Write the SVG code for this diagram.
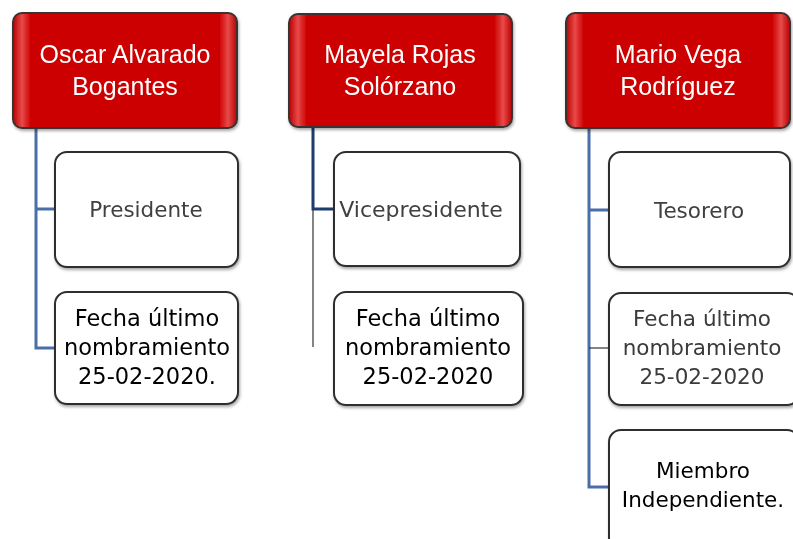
<svg xmlns="http://www.w3.org/2000/svg" width="793" height="539" viewBox="0 0 793 539">
<style>
.head{fill:url(#redg);stroke:#3b3030;stroke-width:2}
.card{fill:#fff;stroke:#2e2e2e;stroke-width:2}
.ht{font-family:"Liberation Sans",Arial,sans-serif;font-size:25px;fill:#fff;text-anchor:middle}
.gt{font-family:"DejaVu Sans",Verdana,sans-serif;font-size:21.5px;fill:#404040;text-anchor:middle}
.bt{font-family:"DejaVu Sans",Verdana,sans-serif;font-size:22.5px;fill:#000;text-anchor:middle}
.bt2{font-family:"DejaVu Sans",Verdana,sans-serif;font-size:21.5px;fill:#3a3a3a;text-anchor:middle}
.c{fill:none;stroke:#4a6ea8;stroke-width:3}
.cd{fill:none;stroke:#1f3c6e;stroke-width:3}
.thin{fill:none;stroke:#333;stroke-width:1.2}
</style>
<defs>
<linearGradient id="redg" x1="0" y1="0" x2="1" y2="0">
<stop offset="0" stop-color="#b80000"/>
<stop offset="0.04" stop-color="#e84a4a"/>
<stop offset="0.08" stop-color="#cc0000"/>
<stop offset="0.92" stop-color="#cc0000"/>
<stop offset="0.96" stop-color="#e84a4a"/>
<stop offset="1" stop-color="#b80000"/>
</linearGradient>
<filter id="sh" x="-10%" y="-10%" width="120%" height="130%">
<feDropShadow dx="1" dy="2" stdDeviation="1.5" flood-color="#000" flood-opacity="0.35"/>
</filter>
</defs>
<rect width="793" height="539" fill="#fff"/>
<g id="connectors">
<path class="c" d="M36 128 V348 H55 M36 209 H55"/>
<path class="cd" d="M313 127 V209 H335"/>
<path class="thin" d="M313 209 V347"/>
<path class="c" d="M589 128 V487 H609 M589 210 H609"/>
<path class="thin" d="M589 348 H609"/>
</g>
<g id="n1" filter="url(#sh)">
<rect class="head" x="13" y="13" width="224" height="115" rx="9"/>
<text class="ht" x="125" y="63">Oscar Alvarado</text>
<text class="ht" x="125" y="95">Bogantes</text>
</g>
<g id="n2" filter="url(#sh)">
<rect class="head" x="289" y="14" width="223" height="113" rx="9"/>
<text class="ht" x="400" y="63">Mayela Rojas</text>
<text class="ht" x="400" y="95">Solórzano</text>
</g>
<g id="n3" filter="url(#sh)">
<rect class="head" x="566" y="13" width="224" height="115" rx="9"/>
<text class="ht" x="678" y="63">Mario Vega</text>
<text class="ht" x="678" y="95">Rodríguez</text>
</g>
<g id="n1a" filter="url(#sh)">
<rect class="card" x="55" y="152" width="183" height="115" rx="12"/>
<text class="gt" x="146" y="217">Presidente</text>
</g>
<g id="n1b" filter="url(#sh)">
<rect class="card" x="55" y="292" width="183" height="112" rx="12"/>
<text class="bt" x="147" y="326">Fecha último</text>
<text class="bt" x="147" y="355">nombramiento</text>
<text class="bt" x="147" y="384">25-02-2020.</text>
</g>
<g id="n2a" filter="url(#sh)">
<rect class="card" x="334" y="152" width="186" height="114" rx="12"/>
<text class="gt" x="421" y="217" style="font-size:22px">Vicepresidente</text>
</g>
<g id="n2b" filter="url(#sh)">
<rect class="card" x="334" y="292" width="189" height="113" rx="12"/>
<text class="bt" x="428" y="326">Fecha último</text>
<text class="bt" x="428" y="355">nombramiento</text>
<text class="bt" x="428" y="384">25-02-2020</text>
</g>
<g id="n3a" filter="url(#sh)">
<rect class="card" x="609" y="152" width="181" height="115" rx="12"/>
<text class="gt" x="699" y="218">Tesorero</text>
</g>
<g id="n3b" filter="url(#sh)">
<rect class="card" x="609" y="293" width="190" height="112" rx="12"/>
<text class="bt2" x="702" y="326">Fecha último</text>
<text class="bt2" x="702" y="355">nombramiento</text>
<text class="bt2" x="702" y="384">25-02-2020</text>
</g>
<g id="n3c" filter="url(#sh)">
<rect class="card" x="609" y="430" width="190" height="120" rx="12"/>
<text class="bt" x="703" y="478" style="font-size:21.5px">Miembro</text>
<text class="bt" x="703" y="507" style="font-size:21.5px">Independiente.</text>
</g>
</svg>
